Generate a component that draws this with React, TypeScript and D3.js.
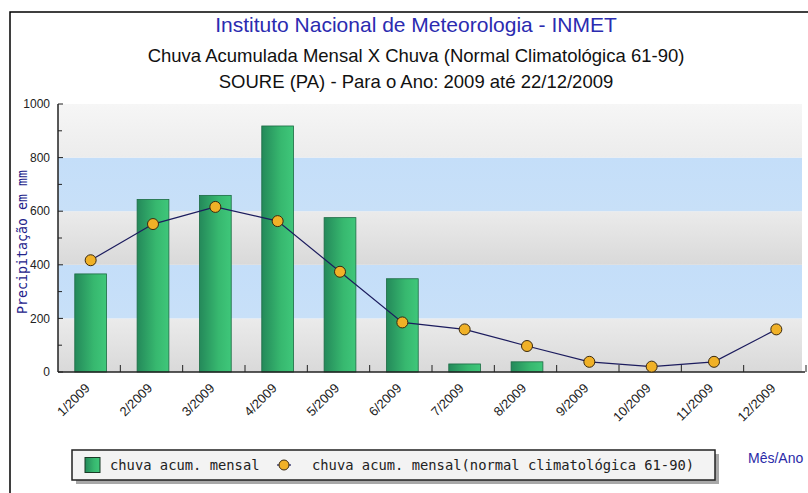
import React, { useEffect } from "react";
import * as d3 from "d3";

// monthly values
const months = ["1/2009", "2/2009", "3/2009", "4/2009", "5/2009", "6/2009", "7/2009", "8/2009", "9/2009", "10/2009", "11/2009", "12/2009"];
const chuvaMensal = [366, 644, 659, 918, 576, 348, 30, 38, 0, 0, 0, 0];
const normalClimatologica = [417, 552, 616, 563, 374, 185, 159, 97, 38, 20, 38, 159];
const yTicks = [0, 200, 400, 600, 800, 1000];
const yMinorTicks = [100, 300, 500, 700, 900];

const W = 808;
const H = 493;
const margin = { top: 104, right: 2, bottom: 121, left: 58 };

export default function App() {
  useEffect(() => {
    document.body.style.margin = "0";
  }, []);

  const x = d3.scaleBand().domain(months).range([margin.left, W - margin.right]);
  const y = d3.scaleLinear().domain([0, 1000]).range([H - margin.bottom, margin.top]);
  const bw = x.bandwidth() * 0.51;
  const cx = (m) => (x(m) as number) + x.bandwidth() / 2 + 1.5;

  const line = d3
    .line<number>()
    .x((d, i) => cx(months[i]))
    .y((d) => y(d));

  // background stripes, alternating grey / blue every 200 mm
  const stripes = yTicks.slice(0, -1).map((v, i) => ({ lo: v, hi: yTicks[i + 1], i }));
  const stripeFill = (i) => (i === 4 ? "url(#gTop)" : i % 2 === 0 ? "url(#gGrey)" : "url(#gBlue)");

  const y0 = y(0);
  const sans = "Arial, 'Liberation Sans', sans-serif";
  const mono = "'DejaVu Sans Mono', 'Liberation Mono', monospace";

  return (
    <svg width={W} height={H} style={{ display: "block", background: "#fff" }}>
      <defs>
        <linearGradient id="gGrey" x1="0" y1="0" x2="0" y2="1">
          <stop offset="0" stopColor="#ebebeb" />
          <stop offset="1" stopColor="#d9d9d9" />
        </linearGradient>
        <linearGradient id="gBlue" x1="0" y1="0" x2="0" y2="1">
          <stop offset="0" stopColor="#c4def9" />
          <stop offset="1" stopColor="#c8e0f8" />
        </linearGradient>
        <linearGradient id="gTop" x1="0" y1="0" x2="0" y2="1">
          <stop offset="0" stopColor="#f6f6f6" />
          <stop offset="1" stopColor="#ececec" />
        </linearGradient>
        <linearGradient id="gBar" x1="0" y1="0" x2="1" y2="0">
          <stop offset="0" stopColor="#24895a" />
          <stop offset="0.6" stopColor="#37b86f" />
          <stop offset="1" stopColor="#3fc77a" />
        </linearGradient>
      </defs>

      {/* outer frame */}
      <path d={`M10,${H} L10,12 L${W},12`} fill="none" stroke="#000" strokeWidth={1.5} />

      {/* titles */}
      <text x={416} y={32} textAnchor="middle" fontFamily={sans} fontSize={21} fill="#2b2bb0">
        Instituto Nacional de Meteorologia - INMET
      </text>
      <text x={416} y={62} textAnchor="middle" fontFamily={sans} fontSize={18.5} fill="#111">
        Chuva Acumulada Mensal X Chuva (Normal Climatológica 61-90)
      </text>
      <text x={416} y={88} textAnchor="middle" fontFamily={sans} fontSize={18.5} fill="#111">
        SOURE (PA) - Para o Ano: 2009 até 22/12/2009
      </text>

      {/* plot background */}
      {stripes.map((s) => (
        <rect
          key={s.i}
          x={margin.left}
          y={y(s.hi)}
          width={W - margin.right - margin.left - 4}
          height={y(s.lo) - y(s.hi)}
          fill={stripeFill(s.i)}
        />
      ))}

      {/* bars */}
      {months.map((m, i) =>
        chuvaMensal[i] > 0 ? (
          <rect
            key={m}
            x={cx(m) - bw / 2}
            y={y(chuvaMensal[i])}
            width={bw}
            height={y0 - y(chuvaMensal[i])}
            fill="url(#gBar)"
            stroke="#1d6b44"
            strokeWidth={0.8}
          />
        ) : null
      )}

      {/* axes */}
      <line x1={margin.left} x2={margin.left} y1={y(1000)} y2={y0} stroke="#222" strokeWidth={1.5} />
      <line x1={margin.left} x2={W - 3} y1={y0} y2={y0} stroke="#222" strokeWidth={1.5} />
      {yTicks.map((t) => (
        <g key={t}>
          <line x1={margin.left} x2={margin.left + 5} y1={y(t)} y2={y(t)} stroke="#222" />
          <text x={50} y={y(t)} dy="0.35em" textAnchor="end" fontFamily={sans} fontSize={12} fill="#222">
            {t}
          </text>
        </g>
      ))}
      {yMinorTicks.map((t) => (
        <line key={t} x1={margin.left} x2={margin.left + 4} y1={y(t)} y2={y(t)} stroke="#222" />
      ))}
      {months.map((m) => (
        <line
          key={m}
          x1={(x(m) as number) + x.bandwidth()}
          x2={(x(m) as number) + x.bandwidth()}
          y1={y0}
          y2={y0 - 7}
          stroke="#222"
        />
      ))}
      {months.map((m) => (
        <text
          key={m}
          transform={`translate(${cx(m)},389) rotate(-45)`}
          textAnchor="end"
          fontFamily={sans}
          fontSize={13}
          fill="#222"
        >
          {m}
        </text>
      ))}

      <text
        transform={`translate(27,242) rotate(-90)`}
        textAnchor="middle"
        fontFamily={mono}
        fontSize={13.3}
        fill="#22228a"
      >
        Precipitação em mm
      </text>
      <text x={748} y={463} fontFamily={sans} fontSize={14} fill="#2a2aa8">
        Mês/Ano
      </text>

      {/* normal line */}
      <path d={line(normalClimatologica) || ""} fill="none" stroke="#1c1c5e" strokeWidth={1.2} />
      {months.map((m, i) => (
        <circle key={m} cx={cx(m)} cy={y(normalClimatologica[i])} r={5.5} fill="#f0b127" stroke="#3a2a10" strokeWidth={1} />
      ))}

      {/* legend */}
      <rect x={76} y={454} width={643} height={30} fill="#a8a8a8" />
      <rect x={72} y={450} width={643} height={30} fill="#f3f3f3" stroke="#222" strokeWidth={1.5} />
      <rect x={85} y={457.5} width={15} height={15} fill="url(#gBar)" stroke="#1a3a26" strokeWidth={1} />
      <text x={110} y={470} fontFamily={mono} fontSize={13.8} fill="#222">
        chuva acum. mensal
      </text>
      <line x1={277} x2={291} y1={465} y2={465} stroke="#1c1c5e" strokeWidth={1.2} />
      <circle cx={284} cy={465} r={5} fill="#f0b127" stroke="#3a2a10" strokeWidth={1} />
      <text x={312} y={470} fontFamily={mono} fontSize={13.8} fill="#222">
        chuva acum. mensal(normal climatológica 61-90)
      </text>
    </svg>
  );
}
